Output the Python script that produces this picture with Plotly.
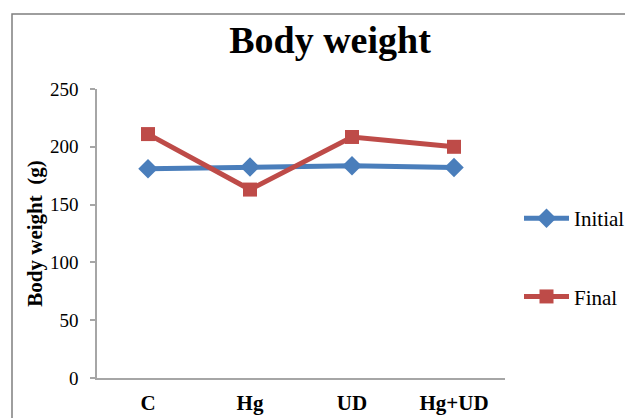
import plotly.graph_objects as go

# Group labels and mean body weights (g)
groups = ["C", "Hg", "UD", "Hg+UD"]
initial_weight = [181, 182.5, 183.5, 182]
final_weight = [211, 163, 208.5, 200]

blue = "#4a7ebb"
red = "#be4b48"
serif = "Liberation Serif, Times New Roman, serif"

fig = go.Figure()
fig.add_trace(go.Scatter(
    x=groups, y=initial_weight, name="Initial", mode="lines+markers",
    line=dict(color=blue, width=5),
    marker=dict(symbol="diamond", size=15, color=blue),
    legendgroup="a",
))
fig.add_trace(go.Scatter(
    x=groups, y=final_weight, name="Final", mode="lines+markers",
    line=dict(color=red, width=5),
    marker=dict(symbol="square", size=14, color=red),
    legendgroup="b",
))

# Plot area: left 97, right 505, top 89, bottom 378 (px)
L, R, T, B = 97, 505, 89, 378
W, H = 625, 418
pw, ph = R - L, B - T

def px_x(x):
    return (x - L) / pw

def px_y(y):
    return (B - y) / ph

fig.update_layout(
    width=W, height=H,
    margin=dict(l=L, r=W - R, t=T, b=H - B, autoexpand=False),
    paper_bgcolor="white", plot_bgcolor="white",
    font=dict(family=serif, color="black"),
    title=dict(
        text="<b>Body weight</b>", x=330 / W, xanchor="center",
        y=1 - 40 / H, yanchor="middle",
        font=dict(size=38, family=serif, color="black"),
    ),
    showlegend=True,
    legend=dict(
        x=px_x(519), xanchor="left", y=px_y(198), yanchor="top",
        font=dict(size=21, family=serif, color="black"),
        tracegroupgap=48, itemwidth=45, bgcolor="rgba(0,0,0,0)",
    ),
    xaxis=dict(
        type="category", range=[-0.5, 3.5], automargin=False,
        showline=True, linecolor="#a6a6a6", linewidth=1.5,
        ticks="", showgrid=False, zeroline=False,
        tickfont=dict(size=21, family=serif, color="black", weight="bold"),
        ticklabelstandoff=5,
    ),
    yaxis=dict(
        range=[0, 250], dtick=50, tick0=0, automargin=False,
        showline=True, linecolor="#a6a6a6", linewidth=1.5,
        ticks="outside", ticklen=5, tickcolor="#a6a6a6", tickwidth=1.5,
        showgrid=False, zeroline=False,
        tickfont=dict(size=19, family=serif, color="black"),
        ticklabelstandoff=8,
        title=dict(
            text="<b>Body weight  (g)</b>", standoff=2,
            font=dict(size=21, family=serif, color="black"),
        ),
    ),
    shapes=[dict(
        type="rect", xref="paper", yref="paper",
        x0=px_x(12), x1=px_x(700), y0=px_y(500), y1=px_y(14),
        line=dict(color="#7f7f7f", width=1.5), fillcolor="rgba(0,0,0,0)",
        layer="below",
    )],
)

fig.write_html("out.html")
